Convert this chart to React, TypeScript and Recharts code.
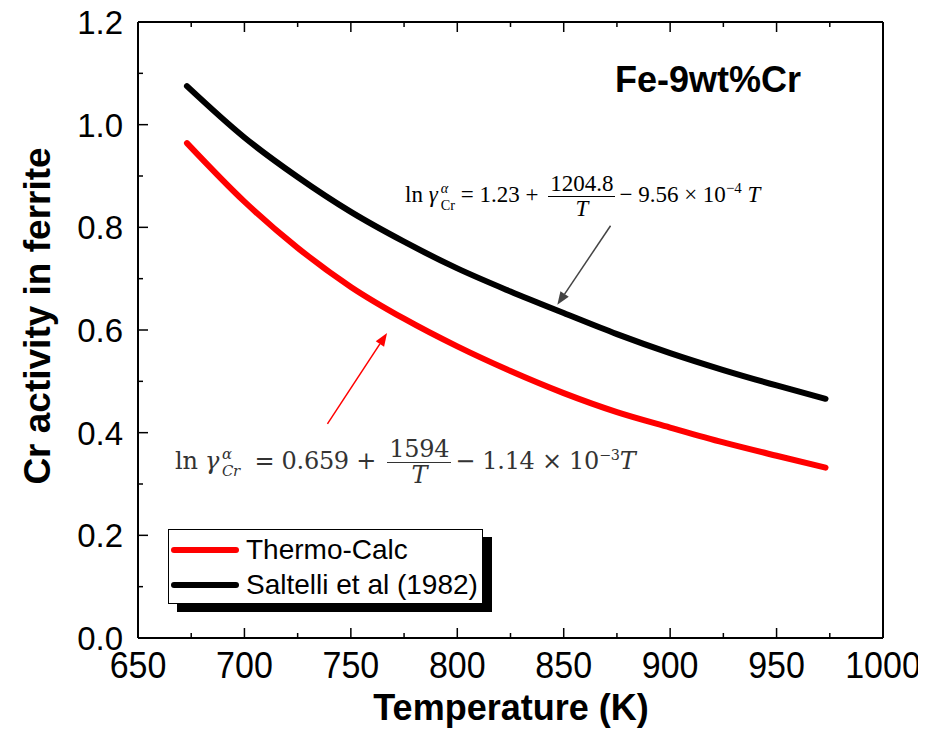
import React from 'react';
import { LineChart, Line, XAxis, YAxis, ReferenceLine } from 'recharts';

// Cr activity vs temperature (K)
const temperatures = [673, 700, 725, 750, 775, 800, 825, 850, 875, 900, 925, 950, 973];
const thermoCalc = [0.964, 0.85, 0.76, 0.684, 0.622, 0.568, 0.52, 0.477, 0.44, 0.41, 0.381, 0.355, 0.332];
const saltelli = [1.075, 0.975, 0.898, 0.83, 0.772, 0.72, 0.675, 0.633, 0.592, 0.555, 0.522, 0.492, 0.466];

const xTicks = [650, 675, 700, 725, 750, 775, 800, 825, 850, 875, 900, 925, 950, 975, 1000];
const yTicks = [0, 0.1, 0.2, 0.3, 0.4, 0.5, 0.6, 0.7, 0.8, 0.9, 1.0, 1.1, 1.2];

// annotation arrows, in data units
const saltelliArrow = [{ x: 872, y: 0.803 }, { x: 847, y: 0.649 }];
const thermoArrow = [{ x: 739, y: 0.417 }, { x: 767, y: 0.594 }];

const series = [
  { key: 'thermoCalc', name: 'Thermo-Calc', color: '#ff0000' },
  { key: 'saltelli', name: 'Saltelli et al (1982)', color: '#000000' },
];

const data = temperatures.map((T, i) => ({ T, thermoCalc: thermoCalc[i], saltelli: saltelli[i] }));

const SANS = '"Liberation Sans", Arial, sans-serif';
const X_DOMAIN: [number, number] = [650, 1000];
const Y_DOMAIN: [number, number] = [0, 1.2];
const MAJOR = 10;
const MINOR = 5;
const GAP_X = 12;
const GAP_Y = 14;

const isMajorX = (v: number) => v % 50 === 0;
const isMajorY = (v: number) => Math.round(v * 10) % 2 === 0;

// bottom axis: inward tick + label for majors
function BottomTick(props: any) {
  const { x, y, payload } = props;
  const axisY = y - GAP_X;
  const major = isMajorX(payload.value);
  const ty = axisY + 40;
  return (
    <g>
      <line x1={x} y1={axisY} x2={x} y2={axisY - (major ? MAJOR : MINOR)} stroke="#000" strokeWidth={1.5} />
      {major && (
        <text x={x} y={ty} textAnchor="middle" fill="#000" fontSize={34} fontFamily={SANS}
          transform={`translate(${x} ${ty}) scale(1 1.1) translate(${-x} ${-ty})`}>
          {payload.value}
        </text>
      )}
    </g>
  );
}

function TopTick(props: any) {
  const { x, y, payload } = props;
  const axisY = y + GAP_X;
  const len = isMajorX(payload.value) ? MAJOR : MINOR;
  return <line x1={x} y1={axisY} x2={x} y2={axisY + len} stroke="#000" strokeWidth={1.5} />;
}

function LeftTick(props: any) {
  const { x, y, payload } = props;
  const axisX = x + GAP_Y;
  const major = isMajorY(payload.value);
  return (
    <g>
      <line x1={axisX} y1={y} x2={axisX + (major ? MAJOR : MINOR)} y2={y} stroke="#000" strokeWidth={1.5} />
      {major && (
        <text x={axisX - 15} y={y + 12} textAnchor="end" fill="#000" fontSize={33} fontFamily={SANS}>
          {payload.value.toFixed(1)}
        </text>
      )}
    </g>
  );
}

function RightTick(props: any) {
  const { x, y, payload } = props;
  const axisX = x - GAP_Y;
  const len = isMajorY(payload.value) ? MAJOR : MINOR;
  return <line x1={axisX} y1={y} x2={axisX - len} y2={y} stroke="#000" strokeWidth={1.5} />;
}

function Arrow(props: any) {
  const { x1, y1, x2, y2, stroke } = props;
  const a = Math.atan2(y2 - y1, x2 - x1);
  const len = 13;
  const w = 5;
  const bx = x2 - len * Math.cos(a);
  const by = y2 - len * Math.sin(a);
  const px = -Math.sin(a) * w;
  const py = Math.cos(a) * w;
  return (
    <g>
      <line x1={x1} y1={y1} x2={bx} y2={by} stroke={stroke} strokeWidth={1.5} />
      <polygon points={`${x2},${y2} ${bx + px},${by + py} ${bx - px},${by - py}`} fill={stroke} />
    </g>
  );
}

function Frac({ num, den }: { num: string; den: string }) {
  return (
    <span style={{ display: 'inline-flex', flexDirection: 'column', alignItems: 'center', verticalAlign: 'middle', margin: '0 4px' }}>
      <span style={{ borderBottom: '1.5px solid', padding: '0 2px', lineHeight: 1.05 }}>{num}</span>
      <span style={{ lineHeight: 1.05, fontStyle: 'italic' }}>{den}</span>
    </span>
  );
}

function Gamma({ sub, subItalic }: { sub: string; subItalic: boolean }) {
  return (
    <span>
      <span style={{ fontStyle: 'italic', paddingRight: 2 }}>γ</span>
      <span style={{ display: 'inline-flex', flexDirection: 'column', verticalAlign: 'middle', fontSize: '0.62em', lineHeight: 1.15, marginLeft: 1 }}>
        <span style={{ fontStyle: 'italic' }}>α</span>
        <span style={{ fontStyle: subItalic ? 'italic' : 'normal' }}>{sub}</span>
      </span>
    </span>
  );
}

const frame = { stroke: '#000', strokeWidth: 2 };

export default function App() {
  // wrapper cancels the body margin so everything below is in page pixels
  return (
    <div style={{ position: 'relative', width: 926, height: 746, margin: '-8px 0 0 -8px' }}>
      <LineChart width={926} height={746} data={data} margin={{ top: 21, right: 42, bottom: 107, left: 137 }}>
        <XAxis
          xAxisId="main"
          dataKey="T"
          type="number"
          domain={X_DOMAIN}
          ticks={xTicks}
          interval={0}
          height={1}
          tickSize={0}
          tickMargin={GAP_X}
          axisLine={frame}
          tickLine={false}
          tick={<BottomTick />}
        />
        <XAxis
          xAxisId="top"
          orientation="top"
          dataKey="T"
          type="number"
          domain={X_DOMAIN}
          ticks={xTicks}
          interval={0}
          height={1}
          tickSize={0}
          tickMargin={GAP_X}
          axisLine={frame}
          tickLine={false}
          tick={<TopTick />}
        />
        <YAxis
          yAxisId="main"
          type="number"
          domain={Y_DOMAIN}
          ticks={yTicks}
          interval={0}
          width={1}
          tickSize={0}
          tickMargin={GAP_Y}
          axisLine={frame}
          tickLine={false}
          tick={<LeftTick />}
        />
        <YAxis
          yAxisId="right"
          orientation="right"
          type="number"
          domain={Y_DOMAIN}
          ticks={yTicks}
          interval={0}
          width={1}
          tickSize={0}
          tickMargin={GAP_Y}
          axisLine={frame}
          tickLine={false}
          tick={<RightTick />}
        />
        {series.map((s) => (
          <Line
            key={s.key}
            xAxisId="main"
            yAxisId="main"
            type="monotone"
            dataKey={s.key}
            name={s.name}
            stroke={s.color}
            strokeWidth={6}
            strokeLinecap="round"
            dot={false}
            isAnimationActive={false}
          />
        ))}
        <ReferenceLine xAxisId="main" yAxisId="main" segment={saltelliArrow} stroke="#444" shape={Arrow} />
        <ReferenceLine xAxisId="main" yAxisId="main" segment={thermoArrow} stroke="#ff0000" shape={Arrow} />
      </LineChart>

      {/* axis titles */}
      <div
        style={{
          position: 'absolute', left: 37, top: 316, transform: 'translate(-50%, -50%) rotate(-90deg)',
          whiteSpace: 'nowrap', fontFamily: SANS, fontWeight: 'bold', fontSize: 37, lineHeight: 1,
        }}
      >
        Cr activity in ferrite
      </div>
      <div
        style={{
          position: 'absolute', left: 511, top: 690, transform: 'translateX(-50%)',
          whiteSpace: 'nowrap', fontFamily: SANS, fontWeight: 'bold', fontSize: 36, lineHeight: 1,
        }}
      >
        Temperature (K)
      </div>

      <div style={{ position: 'absolute', left: 615, top: 62, fontFamily: SANS, fontWeight: 'bold', fontSize: 36, lineHeight: 1, whiteSpace: 'nowrap' }}>
        Fe-9wt%Cr
      </div>

      {/* Saltelli equation */}
      <div style={{ position: 'absolute', left: 405, top: 172, fontFamily: '"Liberation Serif", "Times New Roman", serif', fontSize: 23, color: '#000', whiteSpace: 'nowrap' }}>
        ln <Gamma sub="Cr" subItalic={false} /> = 1.23 + <Frac num="1204.8" den="T" />− 9.56 × 10<sup style={{ fontSize: '0.65em' }}>−4</sup> <i>T</i>
      </div>

      {/* Thermo-Calc equation */}
      <div style={{ position: 'absolute', left: 175, top: 437, fontFamily: '"DejaVu Serif", "Liberation Serif", serif', fontSize: 24, color: '#333', whiteSpace: 'nowrap', letterSpacing: -0.3 }}>
        ln <Gamma sub="Cr" subItalic={true} /> &nbsp;= 0.659 + <Frac num="1594" den="T" />− 1.14 × 10<sup style={{ fontSize: '0.6em' }}>−3</sup><i>T</i>
      </div>

      {/* legend */}
      <div
        style={{
          position: 'absolute', left: 168, top: 529, width: 315, height: 75, boxSizing: 'border-box',
          border: '1px solid #000', background: '#fff', boxShadow: '9px 8px 0 #000', fontFamily: SANS, fontSize: 28,
        }}
      >
        {series.map((s, i) => (
          <div key={s.key} style={{ position: 'absolute', left: 2, top: 4 + i * 35, height: 32, display: 'flex', alignItems: 'center', whiteSpace: 'nowrap' }}>
            <span style={{ display: 'inline-block', width: 68, height: 6, borderRadius: 3, background: s.color, marginRight: 7 }} />
            <span>{s.name}</span>
          </div>
        ))}
      </div>
    </div>
  );
}
